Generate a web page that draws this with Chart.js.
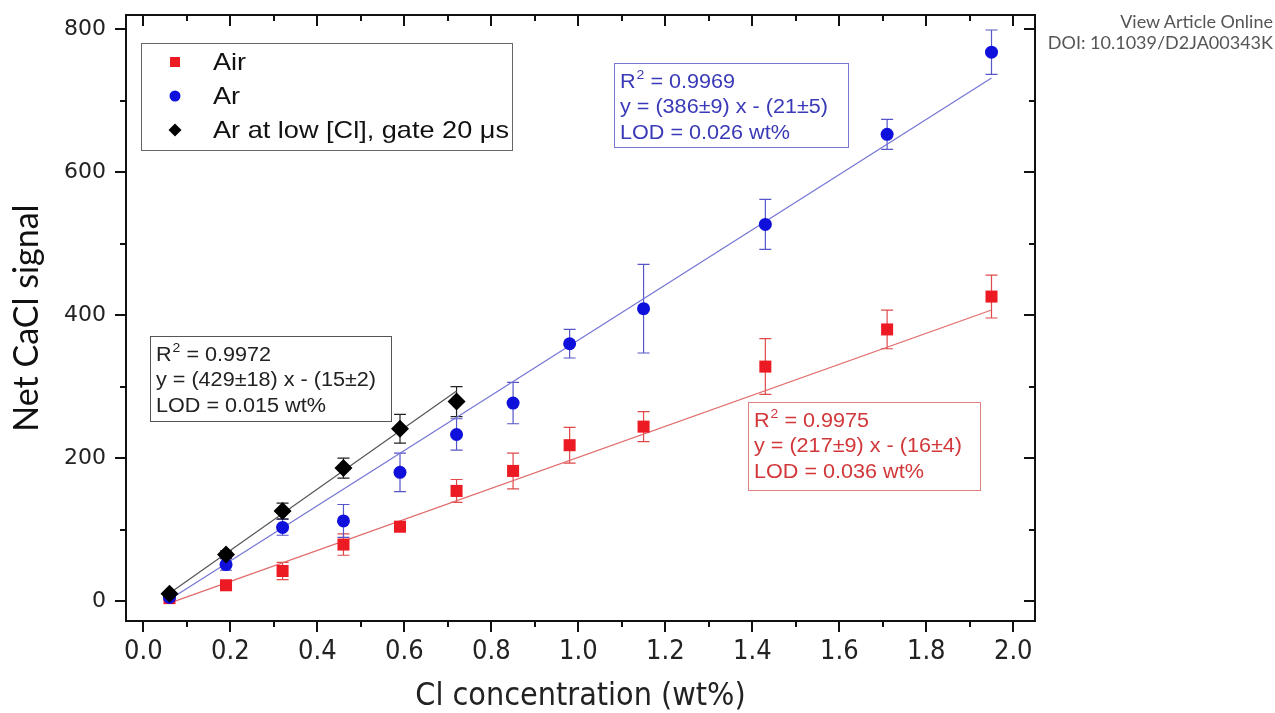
<!doctype html>
<html>
<head>
<meta charset="utf-8">
<title>Net CaCl signal vs Cl concentration</title>
<script src="https://cdn.jsdelivr.net/npm/chart.js@4.4.0/dist/chart.umd.min.js"></script>
<style>
	body { margin: 0; background: #fff; }
	canvas { display: block; }
	#doi {
		position: absolute; right: 2px; top: 11px;
		text-align: right; font-family: Lato, sans-serif;
		font-size: 18px; line-height: 21px; color: #555;
	}
</style>
</head>
<body>
<div id="doi">View Article Online<br>DOI: 10.1039/D2JA00343K</div>
<canvas id="canvas" width="1275" height="713"></canvas>
<script>
// Cl concentration (wt%) of the standards
var concAll = [0.06, 0.19, 0.32, 0.46, 0.59, 0.72, 0.85, 0.98, 1.15, 1.43, 1.71, 1.95];
var concLow = [0.06, 0.19, 0.32, 0.46, 0.59, 0.72];

// net CaCl signal and its error bars
var signalAir = [4, 22, 42, 79, 104, 154, 182, 218, 244, 328, 380, 426];
var errAir    = [3, 4, 12, 15, 7, 16, 25, 25, 21, 39, 27, 30];
var signalAr  = [5, 51, 103, 112, 180, 233, 277, 360, 409, 527, 653, 768];
var errAr     = [3, 8, 11, 23, 27, 22, 29, 20, 62, 35, 21, 31];
var signalLow = [10, 65, 126, 186, 241, 279];
var errLow    = [3, 5, 11, 14, 20, 21];

// linear fits: slope, intercept and the x span they cover
var fitSlope = [217, 386, 429];
var fitIntercept = [-16, -21, -15];
var fitFrom = [0.06, 0.06, 0.06];
var fitTo = [1.95, 1.95, 0.72];

var seriesNames = ['Air', 'Ar', 'Ar at low [Cl], gate 20 \u03bcs'];
var fitR2 = ['0.9975', '0.9969', '0.9972'];
var fitEq = ['y = (217\u00b19) x - (16\u00b14)', 'y = (386\u00b19) x - (21\u00b15)', 'y = (429\u00b118) x - (15\u00b12)'];
var fitLod = ['LOD = 0.036 wt%', 'LOD = 0.026 wt%', 'LOD = 0.015 wt%'];

var xTickValues = [0, 0.2, 0.4, 0.6, 0.8, 1.0, 1.2, 1.4, 1.6, 1.8, 2.0];
var yTickValues = [0, 200, 400, 600, 800];

var pointColor = ['#ec1a22', '#1010dc', '#000000'];
var barColor = ['#e04a4a', '#5656c8', '#222222'];
var lineColor = ['#e06a6a', '#7474d6', '#555555'];
var textColor = ['#d2383a', '#3a3ab8', '#222222'];
var boxColor = ['#e08080', '#7878d4', '#555555'];

var narrow = "'Liberation Sans Narrow', 'Arial Narrow', 'DejaVu Sans Condensed', sans-serif";
var arial = "'Liberation Sans', Arial, sans-serif";

function toPoints(xs, ys) {
	return xs.map(function (x, i) { return {x: x, y: ys[i]}; });
}

function fitLine(i) {
	return [
		{x: fitFrom[i], y: fitSlope[i] * fitFrom[i] + fitIntercept[i]},
		{x: fitTo[i], y: fitSlope[i] * fitTo[i] + fitIntercept[i]}
	];
}

var pointData = [toPoints(concAll, signalAir), toPoints(concAll, signalAr), toPoints(concLow, signalLow)];
var errData = [errAir, errAr, errLow];

// vertical error bars with caps, drawn under the markers
var errorBars = {
	id: 'errorBars',
	beforeDatasetsDraw: function (chart) {
		var ctx = chart.ctx, x = chart.scales.x, y = chart.scales.y;
		ctx.save();
		ctx.lineWidth = 1.2;
		pointData.forEach(function (pts, s) {
			ctx.strokeStyle = barColor[s];
			pts.forEach(function (p, i) {
				var px = x.getPixelForValue(p.x);
				var hi = y.getPixelForValue(p.y + errData[s][i]);
				var lo = y.getPixelForValue(p.y - errData[s][i]);
				ctx.beginPath();
				ctx.moveTo(px, hi); ctx.lineTo(px, lo);
				ctx.moveTo(px - 6, hi); ctx.lineTo(px + 6, hi);
				ctx.moveTo(px - 6, lo); ctx.lineTo(px + 6, lo);
				ctx.stroke();
			});
		});
		ctx.restore();
	}
};

// closed frame with major/minor ticks, outward on bottom/left, inward on top/right
var frameTicks = {
	id: 'frameTicks',
	afterDraw: function (chart) {
		var ctx = chart.ctx, a = chart.chartArea, x = chart.scales.x, y = chart.scales.y;
		ctx.save();
		ctx.strokeStyle = '#111';
		ctx.lineWidth = 2;
		ctx.strokeRect(a.left, a.top, a.right - a.left, a.bottom - a.top);
		ctx.beginPath();
		for (var i = 0; i <= 20; i++) {
			var px = Math.round(x.getPixelForValue(i / 10));
			var len = i % 2 === 0 ? 11 : 6;
			ctx.moveTo(px, a.bottom); ctx.lineTo(px, a.bottom + len);
			ctx.moveTo(px, a.top); ctx.lineTo(px, a.top + len);
		}
		for (var j = 0; j <= 8; j++) {
			var py = Math.round(y.getPixelForValue(j * 100));
			var ylen = j % 2 === 0 ? 11 : 6;
			ctx.moveTo(a.left, py); ctx.lineTo(a.left - ylen, py);
			ctx.moveTo(a.right, py); ctx.lineTo(a.right - ylen, py);
		}
		ctx.stroke();
		ctx.restore();
	}
};

function drawMarker(ctx, style, cx, cy, r, color) {
	ctx.fillStyle = color;
	ctx.beginPath();
	if (style === 'rect') {
		ctx.rect(cx - r, cy - r, 2 * r, 2 * r);
	} else if (style === 'circle') {
		ctx.arc(cx, cy, r, 0, Math.PI * 2);
	} else {
		ctx.moveTo(cx - r, cy); ctx.lineTo(cx, cy - r);
		ctx.lineTo(cx + r, cy); ctx.lineTo(cx, cy + r);
		ctx.closePath();
	}
	ctx.fill();
}

// text drawn a little wider than the font, like the original artwork
function wideText(ctx, str, x, y, sx) {
	ctx.save();
	ctx.translate(x, y);
	ctx.scale(sx, 1);
	ctx.fillText(str, 0, 0);
	ctx.restore();
	return ctx.measureText(str).width * sx;
}

// legend box and the three fit-result boxes
var boxes = {
	id: 'boxes',
	afterDraw: function (chart) {
		var ctx = chart.ctx;
		ctx.save();

		ctx.strokeStyle = '#666';
		ctx.lineWidth = 1;
		ctx.strokeRect(141.5, 43.5, 371, 107);
		var styles = ['rect', 'circle', 'rectRot'];
		var sizes = [5, 5.5, 6.5];
		ctx.font = '24px ' + arial;
		ctx.textBaseline = 'middle';
		seriesNames.forEach(function (name, i) {
			var cy = 62 + i * 34;
			drawMarker(ctx, styles[i], 175, cy, sizes[i], pointColor[i]);
			ctx.fillStyle = '#111';
			wideText(ctx, name, 213, cy + 1, 1.13);
		});

		var spots = [[748, 402, 232, 88], [614, 63, 234, 84], [150, 336, 241, 85]];
		spots.forEach(function (b, i) {
			ctx.strokeStyle = boxColor[i];
			ctx.strokeRect(b[0] + 0.5, b[1] + 0.5, b[2], b[3]);
			ctx.fillStyle = textColor[i];
			var tx = b[0] + 6, ty = b[1] + 19, sx = 1.08;
			ctx.font = '20px ' + arial;
			var w = wideText(ctx, 'R', tx, ty, sx);
			ctx.font = '13px ' + arial;
			w += wideText(ctx, '2', tx + w + 1, ty - 7, sx) + 1;
			ctx.font = '20px ' + arial;
			wideText(ctx, ' = ' + fitR2[i], tx + w, ty, sx);
			wideText(ctx, fitEq[i], tx, ty + 25.5, sx);
			wideText(ctx, fitLod[i], tx, ty + 51, sx);
		});
		ctx.restore();
	}
};

var datasets = [];
var pointStyles = ['rect', 'circle', 'rectRot'];
var pointRadii = [8.5, 6.5, 9];
[0, 1, 2].forEach(function (i) {
	datasets.push({
		label: seriesNames[i],
		data: pointData[i],
		pointStyle: pointStyles[i],
		pointRadius: pointRadii[i],
		backgroundColor: pointColor[i],
		borderColor: pointColor[i],
		borderWidth: 0,
		order: 3 - i
	});
	datasets.push({
		label: seriesNames[i] + ' fit',
		data: fitLine(i),
		showLine: true,
		pointRadius: 0,
		borderColor: lineColor[i],
		borderWidth: 1.2,
		order: 10
	});
});

function noEdgePadding(s) {
	s.paddingTop = 0; s.paddingBottom = 0;
	s.paddingLeft = 0; s.paddingRight = 0;
}

var ctx = document.getElementById('canvas').getContext('2d');
new Chart(ctx, {
	type: 'scatter',
	data: {datasets: datasets},
	plugins: [errorBars, frameTicks, boxes],
	options: {
		responsive: false,
		animation: false,
		layout: {padding: {top: 15, right: 240, left: 0, bottom: 0}},
		plugins: {legend: {display: false}, tooltip: {enabled: false}},
		scales: {
			x: {
				type: 'linear', min: -0.04, max: 2.05,
				afterBuildTicks: function (s) { s.ticks = xTickValues.map(function (v) { return {value: v}; }); },
				afterFit: function (s) { s.height = 92; noEdgePadding(s); },
				grid: {display: false, drawTicks: false},
				border: {display: false},
				ticks: {
					padding: 15, color: '#222', maxRotation: 0, autoSkip: false,
					font: {family: narrow, size: 27},
					callback: function (v) { return v.toFixed(1); }
				},
				title: {
					display: true, text: 'Cl concentration (wt%)', color: '#222',
					font: {family: narrow, size: 32}, padding: {top: 0, bottom: -3}
				}
			},
			y: {
				type: 'linear', min: -28, max: 820,
				afterBuildTicks: function (s) { s.ticks = yTickValues.map(function (v) { return {value: v}; }); },
				afterFit: function (s) { s.width = 126; noEdgePadding(s); },
				grid: {display: false, drawTicks: false},
				border: {display: false},
				ticks: {padding: 20, color: '#222', font: {family: "'DejaVu Sans', sans-serif", size: 22}},
				title: {
					display: true, text: 'Net CaCl signal', color: '#111',
					font: {family: 'Lato, sans-serif', size: 34}, padding: {top: 7, bottom: 0}
				}
			}
		}
	}
});
</script>
</body>
</html>
